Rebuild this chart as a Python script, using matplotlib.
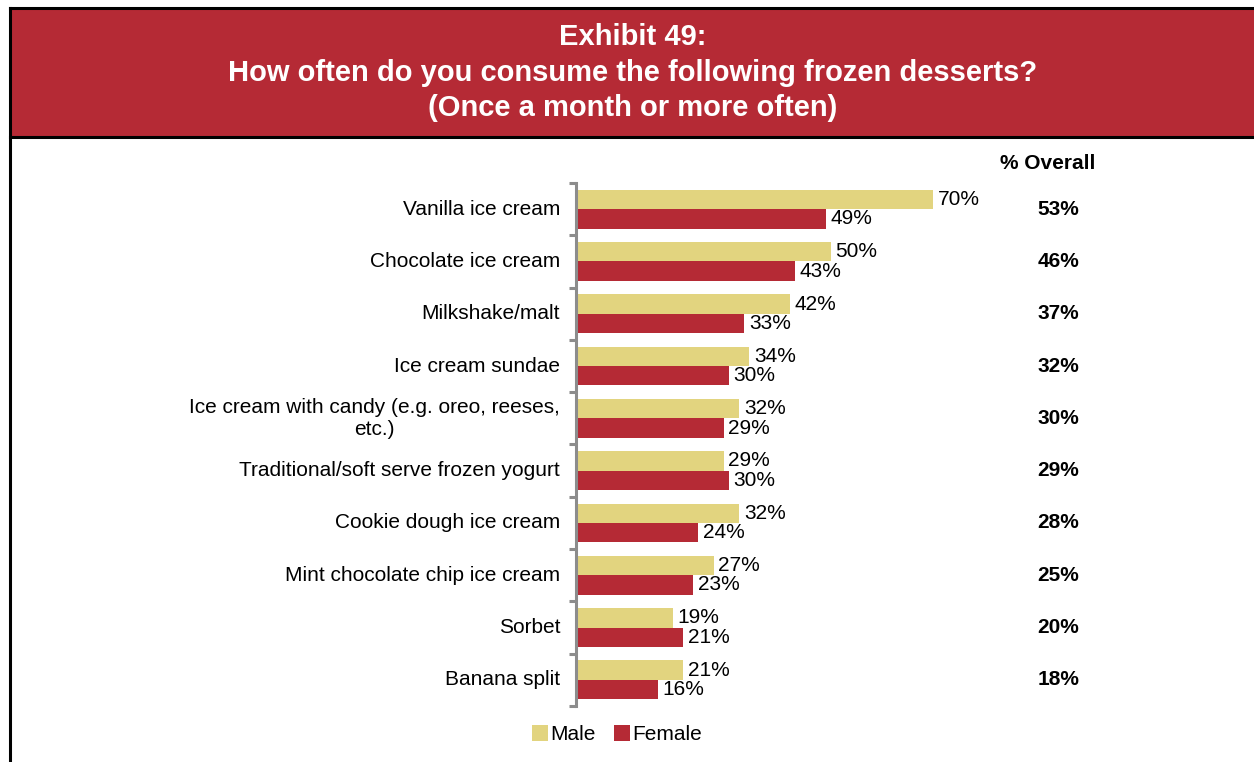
import numpy as np
import matplotlib.pyplot as plt
from matplotlib.patches import Rectangle
from matplotlib.lines import Line2D

plt.rcParams["font.family"] = ["Liberation Sans", "DejaVu Sans"]

categories = [
    "Vanilla ice cream",
    "Chocolate ice cream",
    "Milkshake/malt",
    "Ice cream sundae",
    "Ice cream with candy (e.g. oreo, reeses,\netc.)",
    "Traditional/soft serve frozen yogurt",
    "Cookie dough ice cream",
    "Mint chocolate chip ice cream",
    "Sorbet",
    "Banana split",
]
male = [70, 50, 42, 34, 32, 29, 32, 27, 19, 21]
female = [49, 43, 33, 30, 29, 30, 24, 23, 21, 16]
overall = [53, 46, 37, 32, 30, 29, 28, 25, 20, 18]

MALE_COLOR = "#E2D47F"
FEMALE_COLOR = "#B52A35"
FS = 15

W, H = 1254, 762
fig = plt.figure(figsize=(W / 100, H / 100), dpi=100)
fig.patch.set_facecolor("white")


def fx(px):
    return px / W


def fy(py):
    return 1 - py / H


# header band and frame
fig.patches.append(Rectangle((fx(10), fy(137)), fx(1254 - 10), (137 - 8) / H,
                             transform=fig.transFigure, facecolor=FEMALE_COLOR,
                             edgecolor="none", zorder=0))
for xs, ys in [((fx(10), 1), (fy(8), fy(8))),
               ((fx(10), 1), (fy(137), fy(137))),
               ((fx(10), fx(10)), (fy(8), 0))]:
    fig.add_artist(Line2D(xs, ys, transform=fig.transFigure, color="black", lw=2.2))

title_lines = ["Exhibit 49:",
               "How often do you consume the following frozen desserts?",
               "(Once a month or more often)"]
for line, py in zip(title_lines, [37, 73, 108]):
    fig.text(fx(633), fy(py), line, color="white", fontsize=21, fontweight="bold",
             ha="center", va="center")

ax = fig.add_axes([fx(576), fy(706), fx(510), (706 - 183) / H])
n = len(categories)
y = np.arange(n)
h = 0.37
ax.barh(y - h / 2, male, height=h, color=MALE_COLOR, label="Male")
ax.barh(y + h / 2, female, height=h, color=FEMALE_COLOR, label="Female")

for i in range(n):
    ax.text(male[i] + 0.9, y[i] - h / 2, f"{male[i]}%", va="center", ha="left",
            fontsize=FS)
    ax.text(female[i] + 0.9, y[i] + h / 2, f"{female[i]}%", va="center", ha="left",
            fontsize=FS)
    ax.text(94.6, y[i], f"{overall[i]}%", va="center", ha="center", fontsize=FS,
            fontweight="bold")
    ax.text(-3.1, y[i], categories[i], va="center", ha="right", fontsize=FS,
            multialignment="center")

ax.text(92.4, -0.88, "% Overall", va="center", ha="center", fontsize=FS,
        fontweight="bold")

ax.set_xlim(0, 100)
ax.set_ylim(n - 0.5, -0.5)
ax.set_xticks([])
ax.set_yticks(np.arange(n + 1) - 0.5)
ax.set_yticklabels([])
ax.tick_params(axis="y", direction="out", length=5, width=2.2, color="#8C8C8C")
for side in ["top", "right", "bottom"]:
    ax.spines[side].set_visible(False)
ax.spines["left"].set_color("#8C8C8C")
ax.spines["left"].set_linewidth(2.2)
ax.patch.set_alpha(0)

ax.legend(loc="center", bbox_to_anchor=(fx(617 - 576) / fx(510), -0.055),
          ncol=2, frameon=False, fontsize=FS, handlelength=0.75, handleheight=0.75,
          handletextpad=0.1, columnspacing=0.9)

fig.savefig("out.png", dpi=100)
